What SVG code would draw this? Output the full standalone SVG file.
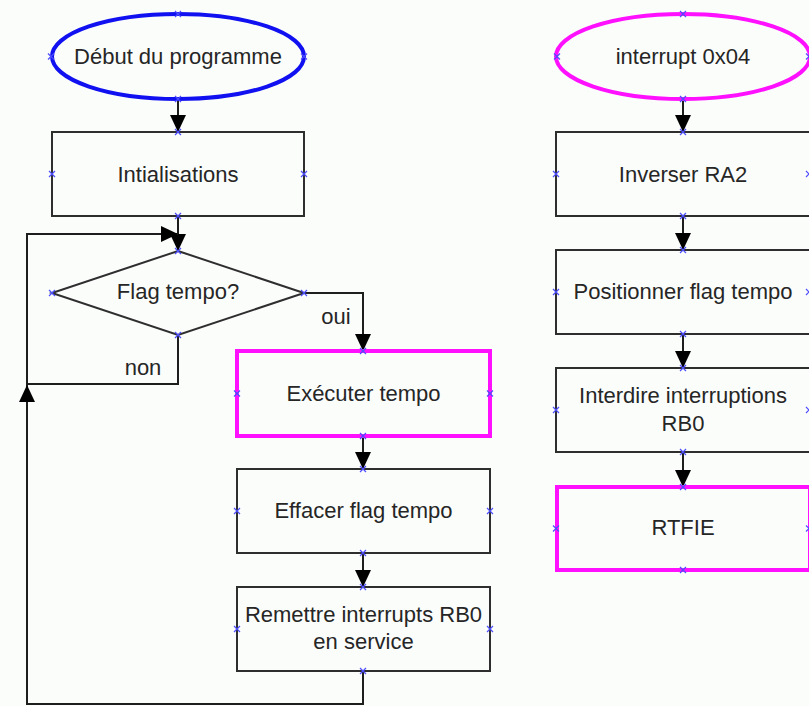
<svg xmlns="http://www.w3.org/2000/svg" xmlns:xlink="http://www.w3.org/1999/xlink" width="809" height="706" viewBox="0 0 809 706">
<style>
  .box { fill: none; stroke: #2e2e2e; stroke-width: 2; }
  .hot { fill: none; stroke: #ff10ff; stroke-width: 4; }
  .start { fill: none; stroke: #1010f0; stroke-width: 4; }
  .irq { fill: none; stroke: #ff10ff; stroke-width: 4; }
  .lbl { font-family: "Liberation Sans", Arial, sans-serif; font-size: 22px; fill: #262626; text-anchor: middle; }
  .edge { fill: none; stroke: #1e1e1e; stroke-width: 2; }
  .pt { stroke: #4d4dff; stroke-width: 1.2; fill: none; }
</style>
<defs>
  <marker id="arr" markerUnits="userSpaceOnUse" markerWidth="18" markerHeight="18" refX="17" refY="8" orient="auto">
    <path d="M0,0 L17,8 L0,16 z" fill="#000"/>
  </marker>
  <path id="x" class="pt" d="M-3,-3 L3,3 M-3,3 L3,-3"/>
</defs>
<rect width="809" height="706" fill="#fbfdfb"/>

<g id="connectors">
  <path class="edge" d="M178,99 V132" marker-end="url(#arr)"/>
  <path class="edge" d="M178,216 V251" marker-end="url(#arr)"/>
  <path class="edge" d="M304,293 H363 V351" marker-end="url(#arr)"/>
  <path class="edge" d="M178,335 V384 H27 V234 H178" marker-end="url(#arr)"/>
  <path class="edge" d="M363,436 V469" marker-end="url(#arr)"/>
  <path class="edge" d="M363,553 V587" marker-end="url(#arr)"/>
  <path class="edge" d="M363,671 V704 H27 V385" marker-end="url(#arr)"/>
  <text class="lbl" x="336" y="324">oui</text>
  <text class="lbl" x="143" y="375">non</text>
  <path class="edge" d="M683,99 V132" marker-end="url(#arr)"/>
  <path class="edge" d="M683,216 V250" marker-end="url(#arr)"/>
  <path class="edge" d="M683,334 V368" marker-end="url(#arr)"/>
  <path class="edge" d="M683,452 V487" marker-end="url(#arr)"/>
</g>

<g id="debut">
  <ellipse class="start" cx="178" cy="56.5" rx="126" ry="42.5"/>
  <text class="lbl" x="178" y="64">Début du programme</text>
  <use xlink:href="#x" x="178" y="14"/><use xlink:href="#x" x="178" y="99"/>
  <use xlink:href="#x" x="51" y="56.5"/><use xlink:href="#x" x="304" y="56.5"/>
</g>

<g id="init">
  <rect class="box" x="52" y="132" width="252" height="84"/>
  <text class="lbl" x="178" y="181.5">Intialisations</text>
  <use xlink:href="#x" x="178" y="132"/><use xlink:href="#x" x="178" y="216"/>
  <use xlink:href="#x" x="52" y="174"/><use xlink:href="#x" x="304" y="174"/>
</g>

<g id="flag">
  <path class="box" d="M178,251 L304,293 L178,335 L52,293 Z"/>
  <text class="lbl" x="178" y="299">Flag tempo?</text>
  <use xlink:href="#x" x="178" y="251"/><use xlink:href="#x" x="178" y="335"/>
  <use xlink:href="#x" x="52" y="293"/><use xlink:href="#x" x="304" y="293"/>
</g>

<g id="executer">
  <rect class="hot" x="237" y="351" width="253" height="85"/>
  <text class="lbl" x="363.5" y="400.5">Exécuter tempo</text>
  <use xlink:href="#x" x="363" y="351"/><use xlink:href="#x" x="363" y="436"/>
  <use xlink:href="#x" x="237" y="393.5"/><use xlink:href="#x" x="490" y="393.5"/>
</g>

<g id="effacer">
  <rect class="box" x="237" y="469" width="253" height="84"/>
  <text class="lbl" x="363.5" y="518">Effacer flag tempo</text>
  <use xlink:href="#x" x="363" y="469"/><use xlink:href="#x" x="363" y="553"/>
  <use xlink:href="#x" x="237" y="511"/><use xlink:href="#x" x="490" y="511"/>
</g>

<g id="remettre">
  <rect class="box" x="237" y="587" width="253" height="84"/>
  <text class="lbl" x="363.5" y="621.5">Remettre interrupts RB0</text>
  <text class="lbl" x="363.5" y="649">en service</text>
  <use xlink:href="#x" x="363" y="587"/><use xlink:href="#x" x="363" y="671"/>
  <use xlink:href="#x" x="237" y="629"/><use xlink:href="#x" x="490" y="629"/>
</g>

<g id="interrupt">
  <ellipse class="irq" cx="683" cy="56.5" rx="127" ry="42.5"/>
  <text class="lbl" x="683" y="63.5">interrupt 0x04</text>
  <use xlink:href="#x" x="683" y="14"/><use xlink:href="#x" x="683" y="99"/>
  <use xlink:href="#x" x="557" y="56.5"/><use xlink:href="#x" x="809" y="56.5"/>
</g>

<g id="inverser">
  <rect class="box" x="556" y="132" width="254" height="84"/>
  <text class="lbl" x="683" y="181.5">Inverser RA2</text>
  <use xlink:href="#x" x="683" y="132"/><use xlink:href="#x" x="683" y="216"/>
  <use xlink:href="#x" x="556" y="174"/><use xlink:href="#x" x="809" y="174"/>
</g>

<g id="positionner">
  <rect class="box" x="556" y="250" width="254" height="84"/>
  <text class="lbl" x="683" y="299">Positionner flag tempo</text>
  <use xlink:href="#x" x="683" y="250"/><use xlink:href="#x" x="683" y="334"/>
  <use xlink:href="#x" x="556" y="292"/><use xlink:href="#x" x="809" y="292"/>
</g>

<g id="interdire">
  <rect class="box" x="556" y="368" width="254" height="84"/>
  <text class="lbl" x="683" y="403">Interdire interruptions</text>
  <text class="lbl" x="683" y="431">RB0</text>
  <use xlink:href="#x" x="683" y="368"/><use xlink:href="#x" x="683" y="452"/>
  <use xlink:href="#x" x="556" y="410"/><use xlink:href="#x" x="809" y="410"/>
</g>

<g id="rtfie">
  <rect class="hot" x="557" y="487" width="253" height="83"/>
  <text class="lbl" x="683" y="535">RTFIE</text>
  <use xlink:href="#x" x="683" y="487"/><use xlink:href="#x" x="683" y="570"/>
  <use xlink:href="#x" x="556" y="528.5"/><use xlink:href="#x" x="809" y="528.5"/>
</g>
</svg>
